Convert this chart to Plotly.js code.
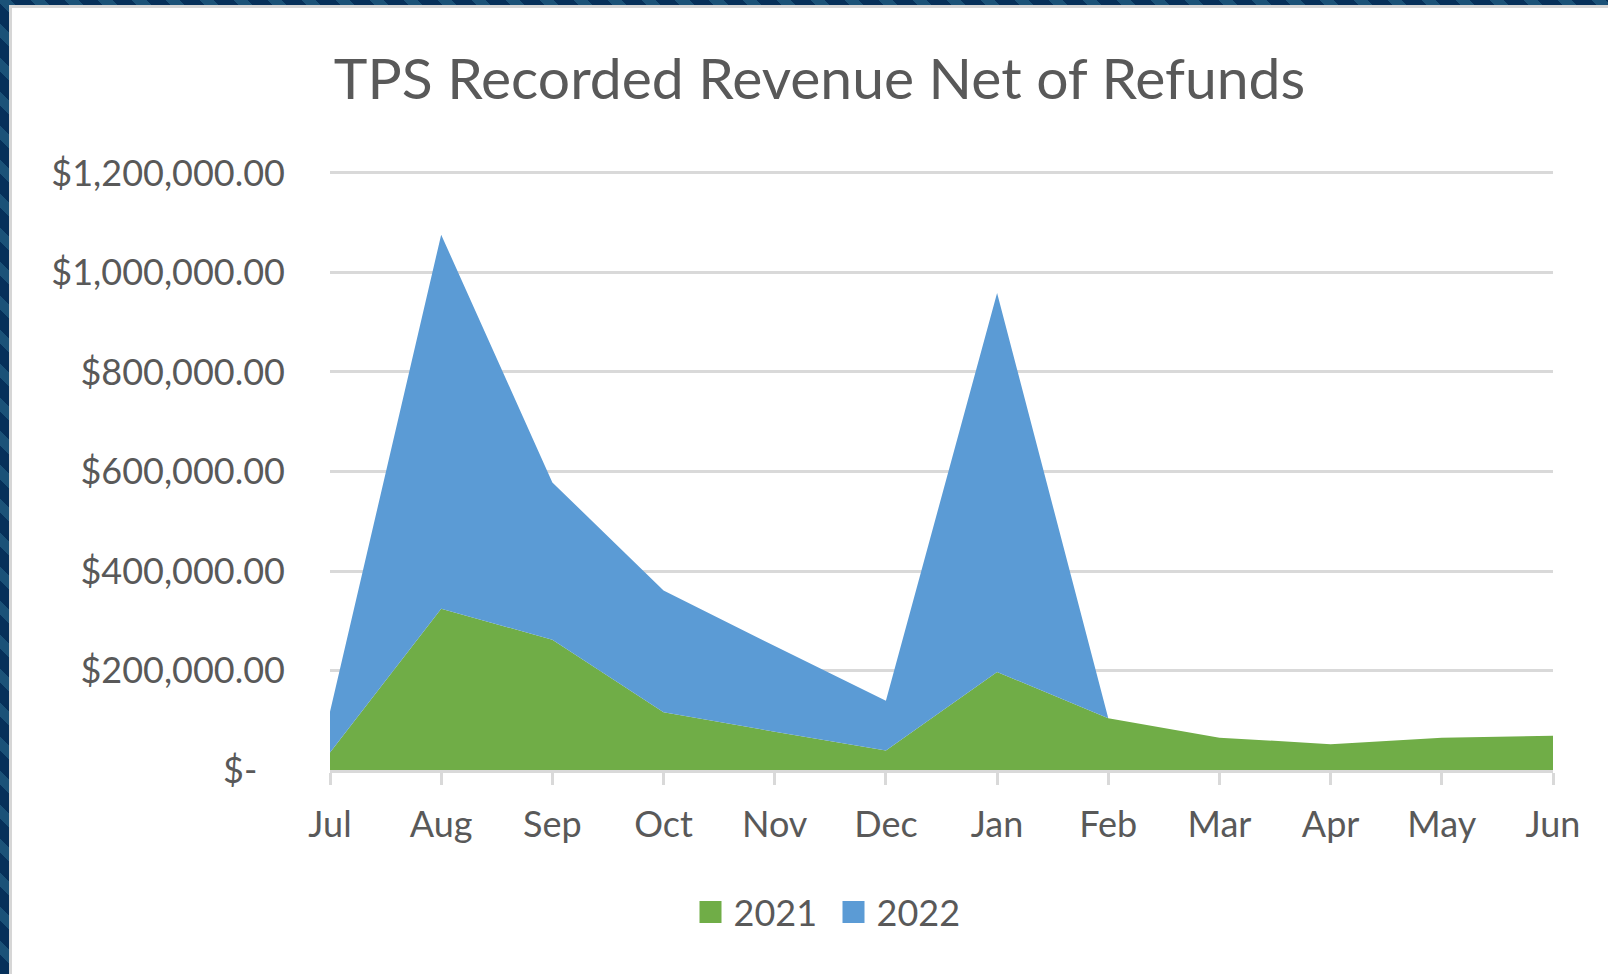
<!DOCTYPE html>
<html>
<head>
<meta charset="utf-8">
<script src="https://cdn.plot.ly/plotly-3.0.1.min.js"></script>
<style>
  html, body { margin: 0; padding: 0; width: 1608px; height: 974px; overflow: hidden; }
  body {
    background: repeating-linear-gradient(45deg, #06305a 0px, #06305a 14px, #1b5278 14px, #1b5278 24px);
    position: relative;
  }
  #panel {
    position: absolute; left: 9px; top: 5px; right: 0; bottom: 0;
    background: #ffffff; border-left: 3px solid #d6d6d6; border-top: 3px solid #d6d6d6;
  }
  #chart { position: absolute; left: 0; top: 0; width: 1608px; height: 974px; }
</style>
</head>
<body>
<div id="panel"></div>
<div id="chart"></div>
<script>
const months = ["Jul", "Aug", "Sep", "Oct", "Nov", "Dec", "Jan", "Feb", "Mar", "Apr", "May", "Jun"];
const revenue2021 = [35000, 324000, 262000, 116000, 77000, 39000, 197000, 104000, 65000, 52000, 65000, 69000];
const revenue2022 = [82000, 752000, 316000, 245000, 172000, 100000, 762000, 0, null, null, null, null];
const yTickValues = [0, 200000, 400000, 600000, 800000, 1000000, 1200000];
const yTickLabels = ["$-\u00A0\u00A0\u00A0", "$200,000.00", "$400,000.00", "$600,000.00", "$800,000.00", "$1,000,000.00", "$1,200,000.00"];
const seriesNames = ["2021", "2022"];
const seriesColors = ["#70AD47", "#5B9BD5"];

const FONT = "Lato, 'Open Sans', sans-serif";
const TEXT = "#595959";
const GRID = "#D9D9D9";

const traces = [
  {
    x: months, y: revenue2021, type: "scatter", mode: "none",
    stackgroup: "rev", fill: "tozeroy", fillcolor: seriesColors[0],
    name: seriesNames[0], showlegend: false, hoverinfo: "x+y"
  },
  {
    x: months, y: revenue2022, type: "scatter", mode: "none",
    stackgroup: "rev", fill: "tonexty", fillcolor: seriesColors[1],
    name: seriesNames[1], showlegend: false, hoverinfo: "x+y"
  },
  {
    x: [null], y: [null], type: "scatter", mode: "markers", name: seriesNames[0],
    marker: { symbol: "square", size: 16, color: seriesColors[0] }
  },
  {
    x: [null], y: [null], type: "scatter", mode: "markers", name: seriesNames[1],
    marker: { symbol: "square", size: 16, color: seriesColors[1] }
  }
];

const layout = {
  width: 1608, height: 974,
  paper_bgcolor: "rgba(0,0,0,0)",
  plot_bgcolor: "rgba(0,0,0,0)",
  margin: { l: 330, r: 55, t: 171, b: 204 },
  font: { family: FONT, color: TEXT },
  title: {
    text: "TPS Recorded Revenue Net of Refunds",
    font: { family: FONT, size: 57, color: TEXT },
    xref: "container", x: 819.5 / 1608, xanchor: "center",
    yref: "container", y: 1 - 79 / 974, yanchor: "middle"
  },
  xaxis: {
    type: "category",
    categoryorder: "array", categoryarray: months,
    range: [0, months.length - 1],
    showgrid: false,
    showline: true, linecolor: GRID, linewidth: 3,
    ticks: "outside", ticklen: 12, tickwidth: 3, tickcolor: GRID,
    tickfont: { family: FONT, size: 36, color: TEXT },
    ticklabelstandoff: 9,
    fixedrange: true
  },
  yaxis: {
    range: [0, 1204000],
    tickmode: "array", tickvals: yTickValues, ticktext: yTickLabels,
    showgrid: true, gridcolor: GRID, gridwidth: 3,
    zeroline: false, showline: false, ticks: "",
    tickfont: { family: FONT, size: 36, color: TEXT },
    ticklabelstandoff: 44,
    fixedrange: true
  },
  showlegend: true,
  legend: {
    orientation: "h", traceorder: "normal",
    xref: "container", x: 836.5 / 1608, xanchor: "center",
    yref: "container", y: 1 - 912 / 974, yanchor: "middle",
    font: { family: FONT, size: 36, color: TEXT },
    itemwidth: 30, tracegroupgap: 0,
    entrywidth: 98, entrywidthmode: "pixels",
    bgcolor: "rgba(0,0,0,0)"
  },
  hovermode: false
};

Plotly.newPlot("chart", traces, layout, { displayModeBar: false, staticPlot: true }).then(function (gd) {
  // Enlarge legend swatches to match the reference square size (~22px)
  gd.querySelectorAll(".legend .legendpoints path.scatterpts").forEach(function (p) {
    p.setAttribute("d", "M8,11H-14V-11H8Z");
  });
});
</script>
</body>
</html>
